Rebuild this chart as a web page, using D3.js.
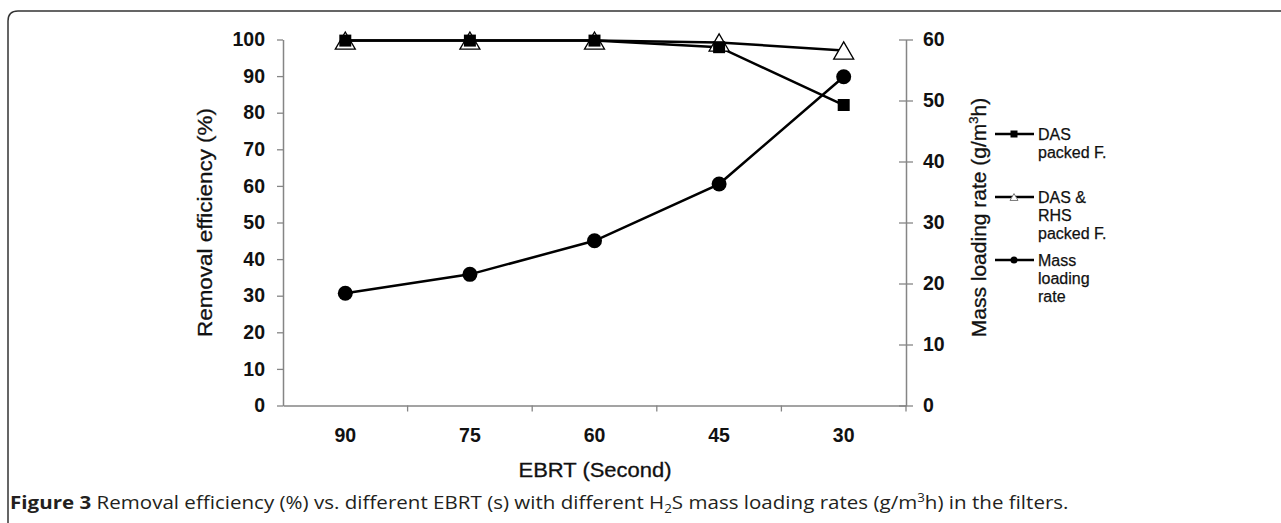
<!DOCTYPE html>
<html><head><meta charset="utf-8">
<script src="https://cdn.jsdelivr.net/npm/d3@7"></script>
<style>
html,body{margin:0;padding:0;background:#fff;}
svg{display:block;}
</style></head>
<body>
<svg id="chart" width="1281" height="523"></svg>
<script>
const categories = ["90", "75", "60", "45", "30"];
const dasPacked = [99.7, 99.7, 99.7, 97.9, 82.1];
const dasRhsPacked = [99.7, 99.7, 99.7, 99.2, 97.0];
const massLoading = [18.4, 21.5, 27.0, 36.3, 53.9];
const leftTicks = [0, 10, 20, 30, 40, 50, 60, 70, 80, 90, 100];
const rightTicks = [0, 10, 20, 30, 40, 50, 60];
const legendLabels = [["DAS", "packed F."], ["DAS &", "RHS", "packed F."], ["Mass", "loading", "rate"]];

const svg = d3.select("#chart");
const FONT = "'Liberation Sans', Arial, sans-serif";
const AXIS = "#858585";

// frame
svg.append("path").attr("d", "M8,523 V21 Q8,11 18,11 H1281")
  .attr("fill", "none").attr("stroke", "#333").attr("stroke-width", 1.5);

const x = d3.scaleBand().domain(categories).range([283, 906]).padding(0);
const yL = d3.scaleLinear().domain([0, 100]).range([405.5, 39.5]);
const yR = d3.scaleLinear().domain([0, 60]).range([405.5, 39.5]);
const cx = c => x(c) + x.bandwidth() / 2;

// left axis
const gL = svg.append("g").attr("transform", "translate(283,0)")
  .call(d3.axisLeft(yL).tickValues(leftTicks).tickSize(6).tickPadding(12).tickSizeOuter(0));
// right axis
const gR = svg.append("g").attr("transform", "translate(906,0)")
  .call(d3.axisRight(yR).tickValues(rightTicks).tickSize(7).tickPadding(10).tickSizeOuter(0));
gR.selectAll(".tick line").attr("x1", -7);
// bottom axis
const gB = svg.append("g").attr("transform", "translate(0,405.5)")
  .call(d3.axisBottom(x).tickSize(0).tickPadding(21).tickSizeOuter(0));
gB.selectAll(".tick").remove();
gB.selectAll(".lbl").data(categories).enter().append("text").attr("class", "lbl")
  .attr("x", d => cx(d)).attr("y", 36).attr("text-anchor", "middle").text(d => d);
const bounds = categories.map(c => x(c)).concat([x.range()[1]]).slice(1);
gB.selectAll(".btick").data(bounds).enter().append("line").attr("class", "btick")
  .attr("x1", d => d).attr("x2", d => d).attr("y1", 0).attr("y2", 6)
  .attr("stroke", AXIS).attr("stroke-width", 1.3);

[gL, gR, gB].forEach(g => {
  g.select(".domain").attr("stroke", AXIS).attr("stroke-width", 1.5);
  g.selectAll("line").attr("stroke", AXIS).attr("stroke-width", 1.3);
  g.selectAll("text").attr("font-family", FONT).attr("font-size", 19.5)
    .attr("font-weight", "bold").attr("fill", "#111");
});

// axis titles
svg.append("text").attr("transform", "translate(212,222.5) rotate(-90)")
  .attr("text-anchor", "middle").attr("font-family", FONT).attr("font-size", 21)
  .attr("fill", "#111").attr("stroke", "#111").attr("stroke-width", 0.3)
  .attr("textLength", 229).attr("lengthAdjust", "spacingAndGlyphs")
  .text("Removal efficiency (%)");
const rt = svg.append("text").attr("transform", "translate(986,217.5) rotate(-90)")
  .attr("text-anchor", "middle").attr("font-family", FONT).attr("font-size", 21)
  .attr("fill", "#111").attr("stroke", "#111").attr("stroke-width", 0.3);
rt.append("tspan").text("Mass loading rate (g/m");
rt.append("tspan").attr("font-size", 13).attr("dy", -8).text("3");
rt.append("tspan").attr("dy", 8).text("h)");
svg.append("text").attr("x", 595).attr("y", 477).attr("text-anchor", "middle")
  .attr("font-family", FONT).attr("font-size", 20.5).attr("fill", "#111")
  .attr("stroke", "#111").attr("stroke-width", 0.3)
  .attr("textLength", 153).attr("lengthAdjust", "spacingAndGlyphs")
  .text("EBRT (Second)");

// markers
function tri(s) { const w = s, h = s * 0.86; return `M0,${-h/2} L${w/2},${h/2} L${-w/2},${h/2} Z`; }
function sq(s) { return `M${-s/2},${-s/2} h${s} v${s} h${-s} Z`; }

const line = d3.line().x(d => cx(d.c)).y(d => d.y);
function series(vals, scale) { return categories.map((c, i) => ({ c, y: scale(vals[i]) })); }

const sRhs = series(dasRhsPacked, yL), sDas = series(dasPacked, yL), sMass = series(massLoading, yR);

svg.append("path").datum(sRhs).attr("d", line).attr("fill", "none").attr("stroke", "#000").attr("stroke-width", 2.5);
svg.append("path").datum(sDas).attr("d", line).attr("fill", "none").attr("stroke", "#000").attr("stroke-width", 2.5);
svg.append("path").datum(sMass).attr("d", line).attr("fill", "none").attr("stroke", "#000").attr("stroke-width", 2.5);

svg.selectAll(".tri").data(sRhs).enter().append("path").attr("class", "tri")
  .attr("transform", d => `translate(${cx(d.c)},${d.y})`).attr("d", tri(20))
  .attr("fill", "#fff").attr("stroke", "#000").attr("stroke-width", 1.3);
svg.selectAll(".sq").data(sDas).enter().append("path").attr("class", "sq")
  .attr("transform", d => `translate(${cx(d.c)},${d.y})`).attr("d", sq(12)).attr("fill", "#000");
svg.selectAll(".dot").data(sMass).enter().append("circle").attr("class", "dot")
  .attr("cx", d => cx(d.c)).attr("cy", d => d.y).attr("r", 7.5).attr("fill", "#000");

// legend
const legY = [134, 197, 260];
legendLabels.forEach((lines, i) => {
  const g = svg.append("g").attr("transform", `translate(0,${legY[i]})`);
  g.append("line").attr("x1", 995).attr("x2", 1034).attr("y1", 0).attr("y2", 0)
    .attr("stroke", "#000").attr("stroke-width", 2.5);
  if (i === 0) g.append("path").attr("transform", "translate(1014,0)").attr("d", sq(7)).attr("fill", "#000");
  if (i === 1) g.append("path").attr("transform", "translate(1014,0)").attr("d", tri(8))
    .attr("fill", "#fff").attr("stroke", "#777").attr("stroke-width", 1);
  if (i === 2) g.append("circle").attr("cx", 1014).attr("cy", 0).attr("r", 3.5).attr("fill", "#000");
  const t = g.append("text").attr("x", 1038).attr("y", 6).attr("font-family", FONT)
    .attr("font-size", 16).attr("fill", "#111").attr("stroke", "#111").attr("stroke-width", 0.25);
  lines.forEach((l, j) => t.append("tspan").attr("x", 1038).attr("dy", j === 0 ? 0 : 18).text(l));
});

// caption
const cap = svg.append("text").attr("x", 10).attr("y", 509)
  .attr("font-family", "'Open Sans', 'Noto Sans', sans-serif").attr("font-size", 18.5).attr("fill", "#231f20");
cap.append("tspan").attr("font-weight", "bold").text("Figure 3");
cap.append("tspan").text(" Removal efficiency (%) vs. different EBRT (s) with different H");
cap.append("tspan").attr("font-size", 12).attr("dy", 4).text("2");
cap.append("tspan").attr("dy", -4).text("S mass loading rates (g/m");
cap.append("tspan").attr("font-size", 12).attr("dy", -7).text("3");
cap.append("tspan").attr("dy", 7).text("h) in the filters.");
const w = cap.node().getBBox().width;
const sx = 1059 / w;
cap.attr("transform", `translate(10,0) scale(${sx},1) translate(-10,0)`);
</script>
</body></html>
